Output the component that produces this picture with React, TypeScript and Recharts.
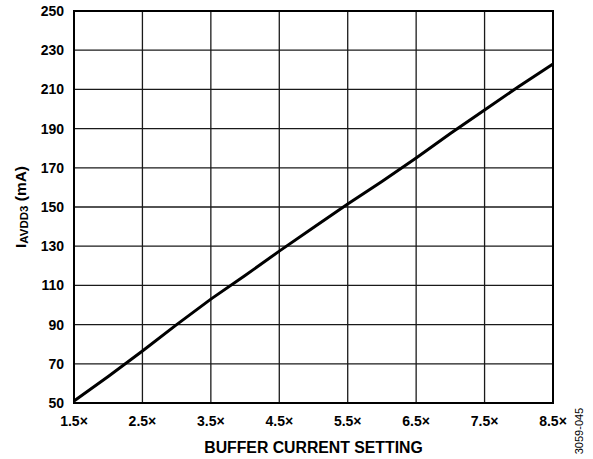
import { LineChart, Line, XAxis, YAxis, CartesianGrid, ReferenceArea } from "recharts";

const settings = [1.5, 2.0, 2.5, 3.0, 3.5, 4.0, 4.5, 5.0, 5.5, 6.0, 6.5, 7.0, 7.5, 8.0, 8.5];
const currentMA = [51, 63.5, 76.5, 90, 103, 115, 127.5, 139.5, 151.5, 163, 175, 187.5, 199.5, 211.5, 223];
const xTicks = [1.5, 2.5, 3.5, 4.5, 5.5, 6.5, 7.5, 8.5];
const yTicks = [50, 70, 90, 110, 130, 150, 170, 190, 210, 230, 250];

const data = settings.map((s, i) => ({ setting: s, current: currentMA[i] }));

const FONT = "'Liberation Sans', Arial, sans-serif";
const tickStyle = { fill: "#000", fontSize: 14, fontWeight: 700, fontFamily: FONT };

function YTitle(props: any) {
  const vb = props.viewBox || { x: 0, y: 0, width: 0, height: 0 };
  const cx = vb.x + 20;
  const cy = vb.y + vb.height / 2;
  return (
    <text
      x={cx}
      y={cy}
      transform={`rotate(-90, ${cx}, ${cy})`}
      textAnchor="middle"
      dominantBaseline="central"
      fontFamily={FONT}
      fontWeight={700}
      fontSize={15.5}
      fill="#000"
    >
      <tspan>I</tspan>
      <tspan dy={4} fontSize={11.5}>AVDD3</tspan>
      <tspan dy={-4}> (mA)</tspan>
    </text>
  );
}

export default function App() {
  return (
    <div style={{ position: "absolute", left: 0, top: 0, width: 593, height: 459, background: "#fff" }}>
      <LineChart
        width={593}
        height={459}
        data={data}
        margin={{ top: 11, right: 40, bottom: 36, left: 0 }}
      >
        <CartesianGrid stroke="#1a1a1a" strokeWidth={1.3} />
        <XAxis
          dataKey="setting"
          type="number"
          domain={[1.5, 8.5]}
          ticks={xTicks}
          tickFormatter={(v: number) => `${v.toFixed(1)}×`}
          tick={tickStyle}
          tickSize={0}
          tickMargin={13}
          axisLine={false}
          height={20}
          label={{
            value: "BUFFER CURRENT SETTING",
            position: "insideBottom",
            offset: -30,
            style: { fill: "#000", fontSize: 15.8, fontWeight: 700, fontFamily: FONT },
          }}
        />
        <YAxis
          type="number"
          domain={[50, 250]}
          ticks={yTicks}
          tick={tickStyle}
          tickSize={0}
          tickMargin={10}
          axisLine={false}
          width={74}
          label={{ content: (p: any) => <YTitle {...p} /> }}
        />
        <ReferenceArea x1={1.5} x2={8.5} y1={50} y2={250} fill="none" stroke="#000" strokeWidth={2} />
        <Line
          type="linear"
          dataKey="current"
          stroke="#000"
          strokeWidth={3}
          dot={false}
          isAnimationActive={false}
        />
      </LineChart>
      <div
        style={{
          position: "absolute",
          left: 579,
          top: 431,
          transform: "translate(-50%, -50%) rotate(-90deg)",
          fontFamily: FONT,
          fontSize: 11,
          color: "#000",
          whiteSpace: "nowrap",
        }}
      >
        3059-045
      </div>
    </div>
  );
}
